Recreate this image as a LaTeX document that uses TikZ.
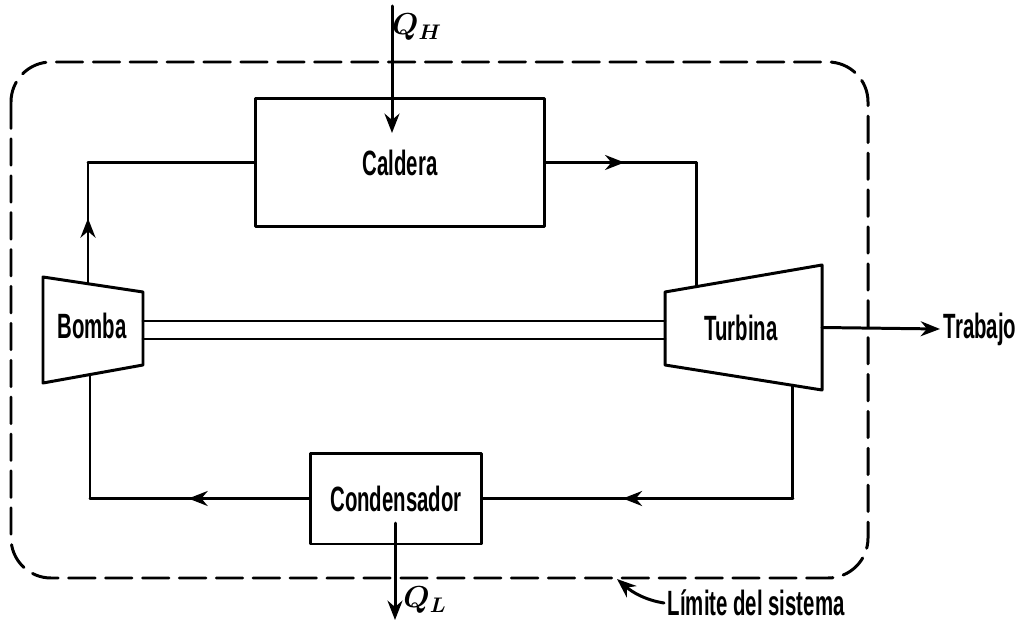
\documentclass[tikz,border=0pt]{standalone}
\usepackage{bm}
\usepackage{fontspec}
\setmainfont{Liberation Sans}[FakeStretch=0.58]
\usetikzlibrary{arrows.meta,calc,decorations.markings}
\tikzset{
  every picture/.style={line join=round, line cap=round, >=Stealth},
  pipe/.style={line width=1.7pt},
  tip/.style={-{Stealth[length=11pt,width=8.5pt]}},
  arrowat/.style={postaction={decorate}, decoration={markings,
    mark=at position #1 with {\arrow{Stealth[length=11pt,width=8.5pt]}}}},
  unit/.style={draw, line width=1.7pt, inner sep=0pt, font=\lbl},
  txt/.style={font=\lbl, inner sep=2pt},
  heat/.style={font=\fontsize{18}{20}\selectfont, inner sep=1pt},
  boundary/.style={line width=1.7pt, dash pattern=on 15pt off 6pt, rounded corners=0.8cm},
}
\newcommand{\lbl}{\bfseries\fontsize{20}{23}\selectfont}

\begin{document}
\begin{tikzpicture}[x=0.02cm, y=-0.02cm]
\useasboundingbox (0,0) rectangle (1016,624);
% system limit
\draw[boundary] (11,62) rectangle (868,578);
% units
\node[unit, minimum width=5.8cm, minimum height=2.58cm] (cal) at (400,162.5) {Caldera};
\node[unit, minimum width=3.44cm, minimum height=1.82cm] (cond) at (396,498.5) {Condensador};
% pump
\coordinate (b1) at (43,277);
\coordinate (b2) at (143,292);
\coordinate (b3) at (143,365);
\coordinate (b4) at (43,383);
\draw[pipe] (b1) -- (b2) -- (b3) -- (b4) -- cycle;
\node[txt] (bomba) at (92,326) {Bomba};
% turbine
\coordinate (t1) at (665,292);
\coordinate (t2) at (822,265);
\coordinate (t3) at (822,390);
\coordinate (t4) at (665,365);
\draw[pipe] (t1) -- (t2) -- (t3) -- (t4) -- cycle;
\node[txt] (turb) at (741,328) {Turbina};
% shaft
\draw[pipe] (143,321) -- (665,321);
\draw[pipe] (143,339) -- (665,339);
% cycle pipes
\coordinate (bout) at ($(b1)!0.45!(b2)$);
\coordinate (bin) at ($(b4)!0.47!(b3)$);
\coordinate (tin) at ($(t1)!0.2!(t2)$);
\coordinate (tout) at ($(t4)!0.815!(t3)$);
\coordinate (c1) at (bout |- cal.west);
\coordinate (c2) at (tin |- cal.east);
\coordinate (c3) at (tout |- cond.east);
\coordinate (c4) at (bin |- cond.west);
\draw[pipe, arrowat=0.54] (bout) -- (c1);
\draw[pipe] (c1) -- (cal.west);
\draw[pipe, arrowat=0.52] (cal.east) -- (c2);
\draw[pipe] (c2) -- (tin);
\draw[pipe] (tout) -- (c3);
\draw[pipe, arrowat=0.55] (c3) -- (cond.east);
\draw[pipe, arrowat=0.55] (cond.west) -- (c4);
\draw[pipe] (c4) -- (bin);
% work
\node[txt, anchor=west] (trab) at (940,329) {Trabajo};
\draw[pipe, tip] ($(t2)!0.5!(t3)$) -- (trab.west);
% heat
\node[heat] (qh) at (417,27) {$\bm{Q_H}$};
\coordinate (qhs) at (392,6);
\coordinate (qhe) at (392,133);
\draw[pipe, tip] (qhs) -- (qhe);
\node[heat] (ql) at (425,600) {$\bm{Q_L}$};
\coordinate (qls) at (395,523);
\coordinate (qle) at (395,620);
\draw[pipe, tip] (qls) -- (qle);
% label of the limit
\node[txt, anchor=west] (lim) at (664,603) {Límite del sistema};
\coordinate (limb) at (617,579);
\draw[pipe, tip] (lim.west) .. controls (645,600) and (632,592) .. (limb);
\end{tikzpicture}
\end{document}
